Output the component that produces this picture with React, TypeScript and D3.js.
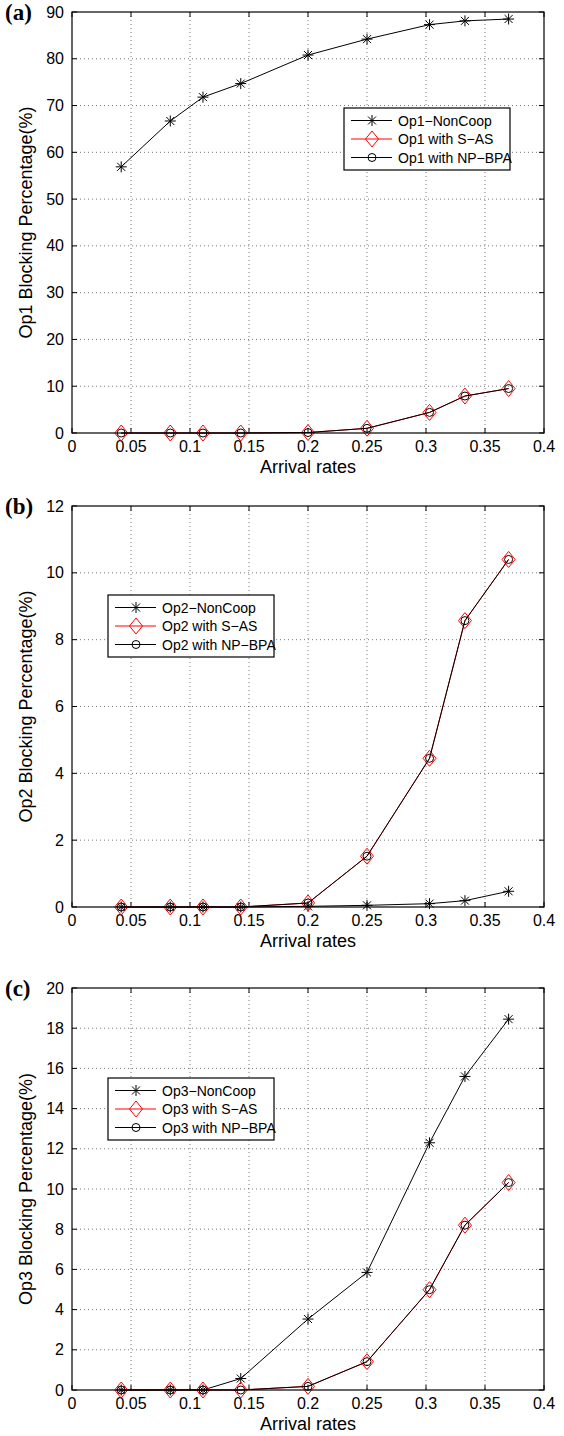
import React from 'react';
import * as d3 from 'd3';

// arrival rates on the x axis (same for all three panels)
const arrivalRates = [0.0417, 0.0833, 0.111, 0.143, 0.2, 0.25, 0.303, 0.333, 0.37];
const xTicks = [0, 0.05, 0.1, 0.15, 0.2, 0.25, 0.3, 0.35, 0.4];

const op1NonCoop = [56.9, 66.7, 71.8, 74.7, 80.8, 84.2, 87.3, 88.1, 88.5];
const op1SAS = [0, 0, 0, 0, 0.1, 1.0, 4.4, 7.9, 9.5];
const op1NPBPA = [0, 0, 0, 0, 0.1, 1.0, 4.4, 7.9, 9.5];

const op2NonCoop = [0, 0, 0, 0, 0.02, 0.05, 0.1, 0.19, 0.47];
const op2SAS = [0, 0, 0, 0, 0.12, 1.52, 4.45, 8.57, 10.4];
const op2NPBPA = [0, 0, 0, 0, 0.12, 1.52, 4.45, 8.57, 10.4];

const op3NonCoop = [0, 0, 0, 0.57, 3.53, 5.85, 12.3, 15.6, 18.45];
const op3SAS = [0, 0, 0, 0, 0.18, 1.41, 4.99, 8.2, 10.32];
const op3NPBPA = [0, 0, 0, 0, 0.18, 1.41, 4.99, 8.2, 10.32];

const op1Ticks = [0, 10, 20, 30, 40, 50, 60, 70, 80, 90];
const op2Ticks = [0, 2, 4, 6, 8, 10, 12];
const op3Ticks = [0, 2, 4, 6, 8, 10, 12, 14, 16, 18, 20];

const W = 564;
const H = 1436;
const left = 72;
const right = 544;
const sans = "'Liberation Sans', Arial, sans-serif";

type Kind = 'star' | 'diamond' | 'circle';

const Marker = ({ kind, x, y, color }: { kind: Kind; x: number; y: number; color: string }) => {
  if (kind === 'star') {
    const s = 5.5;
    const d = 4;
    return (
      <g stroke={color} strokeWidth={1}>
        <line x1={x - s} y1={y} x2={x + s} y2={y} />
        <line x1={x} y1={y - s} x2={x} y2={y + s} />
        <line x1={x - d} y1={y - d} x2={x + d} y2={y + d} />
        <line x1={x - d} y1={y + d} x2={x + d} y2={y - d} />
      </g>
    );
  }
  if (kind === 'diamond') {
    const w = 6.5;
    const h = 8;
    return (
      <path
        d={`M${x},${y - h}L${x + w},${y}L${x},${y + h}L${x - w},${y}Z`}
        fill="none"
        stroke={color}
        strokeWidth={1}
      />
    );
  }
  return <circle cx={x} cy={y} r={4} fill="none" stroke={color} strokeWidth={1} />;
};

interface Series {
  name: string;
  values: number[];
  color: string;
  kind: Kind;
}

interface PanelProps {
  letter: string;
  top: number;
  bottom: number;
  yTicks: number[];
  yLabel: string;
  series: Series[];
  legendX: number;
  legendY: number;
}

const Panel = ({ letter, top, bottom, yTicks, yLabel, series, legendX, legendY }: PanelProps) => {
  const x = d3.scaleLinear().domain([0, 0.4]).range([left, right]);
  const y = d3
    .scaleLinear()
    .domain([0, d3.max(yTicks) as number])
    .range([bottom, top]);
  const line = d3
    .line<number>()
    .x((_, i) => x(arrivalRates[i]))
    .y((d) => y(d));
  const midY = (top + bottom) / 2;
  const legendW = 166;
  const legendH = 62;

  return (
    <g>
      {/* grid */}
      {xTicks.slice(1, -1).map((t) => (
        <line key={'gx' + t} x1={x(t)} x2={x(t)} y1={top} y2={bottom} stroke="#555" strokeWidth={0.8} strokeDasharray="1,3" />
      ))}
      {yTicks.slice(1, -1).map((t) => (
        <line key={'gy' + t} x1={left} x2={right} y1={y(t)} y2={y(t)} stroke="#555" strokeWidth={0.8} strokeDasharray="1,3" />
      ))}
      {/* inner ticks */}
      {xTicks.map((t) => (
        <g key={'tx' + t} stroke="#000" strokeWidth={1}>
          <line x1={x(t)} x2={x(t)} y1={bottom} y2={bottom - 5} />
          <line x1={x(t)} x2={x(t)} y1={top} y2={top + 5} />
        </g>
      ))}
      {yTicks.map((t) => (
        <g key={'ty' + t} stroke="#000" strokeWidth={1}>
          <line x1={left} x2={left + 5} y1={y(t)} y2={y(t)} />
          <line x1={right} x2={right - 5} y1={y(t)} y2={y(t)} />
        </g>
      ))}
      {/* tick labels */}
      {xTicks.map((t) => (
        <text key={'lx' + t} x={x(t)} y={bottom + 18.5} textAnchor="middle" fontFamily={sans} fontSize={16}>
          {String(t)}
        </text>
      ))}
      {yTicks.map((t) => (
        <text key={'ly' + t} x={left - 8} y={y(t) + 5.5} textAnchor="end" fontFamily={sans} fontSize={16}>
          {String(t)}
        </text>
      ))}
      <text x={(left + right) / 2} y={bottom + 40} textAnchor="middle" fontFamily={sans} fontSize={18}>
        Arrival rates
      </text>
      <text
        transform={`translate(32,${midY}) rotate(-90)`}
        textAnchor="middle"
        fontFamily={sans}
        fontSize={18}
      >
        {yLabel}
      </text>
      <text x={5} y={top + 8} fontFamily="'Liberation Serif', 'Times New Roman', serif" fontWeight="bold" fontSize={23}>
        {letter}
      </text>
      {/* series */}
      {series.map((s) => (
        <g key={s.name}>
          <path d={line(s.values) as string} fill="none" stroke={s.color} strokeWidth={1} />
          {s.values.map((v, i) => (
            <Marker key={i} kind={s.kind} x={x(arrivalRates[i])} y={y(v)} color={s.color} />
          ))}
        </g>
      ))}
      {/* box */}
      <rect x={left} y={top} width={right - left} height={bottom - top} fill="none" stroke="#000" strokeWidth={1.2} />
      {/* legend */}
      <g>
        <rect x={legendX} y={legendY} width={legendW} height={legendH} fill="#fff" stroke="#000" strokeWidth={1.2} />
        {series.map((s, i) => {
          const ly = legendY + 12.5 + i * 18.5;
          return (
            <g key={'lg' + s.name}>
              <line x1={legendX + 7} x2={legendX + 48} y1={ly} y2={ly} stroke={s.color} strokeWidth={1} />
              <Marker kind={s.kind} x={legendX + 28} y={ly} color={s.color} />
              <text x={legendX + 54} y={ly + 5} fontFamily={sans} fontSize={14}>
                {s.name}
              </text>
            </g>
          );
        })}
      </g>
    </g>
  );
};

const App = () => {
  return (
    <div style={{ position: 'absolute', left: 0, top: 0 }}>
      <svg width={W} height={H} style={{ display: 'block', background: '#fff' }}>
        <Panel
          letter="(a)"
          top={12}
          bottom={433}
          yTicks={op1Ticks}
          yLabel="Op1 Blocking Percentage(%)"
          legendX={344}
          legendY={108}
          series={[
            { name: 'Op1\u2212NonCoop', values: op1NonCoop, color: '#000', kind: 'star' },
            { name: 'Op1 with S\u2212AS', values: op1SAS, color: '#ff0000', kind: 'diamond' },
            { name: 'Op1 with NP\u2212BPA', values: op1NPBPA, color: '#000', kind: 'circle' },
          ]}
        />
        <Panel
          letter="(b)"
          top={506}
          bottom={907}
          yTicks={op2Ticks}
          yLabel="Op2 Blocking Percentage(%)"
          legendX={108}
          legendY={595}
          series={[
            { name: 'Op2\u2212NonCoop', values: op2NonCoop, color: '#000', kind: 'star' },
            { name: 'Op2 with S\u2212AS', values: op2SAS, color: '#ff0000', kind: 'diamond' },
            { name: 'Op2 with NP\u2212BPA', values: op2NPBPA, color: '#000', kind: 'circle' },
          ]}
        />
        <Panel
          letter="(c)"
          top={988}
          bottom={1390}
          yTicks={op3Ticks}
          yLabel="Op3 Blocking Percentage(%)"
          legendX={108}
          legendY={1078}
          series={[
            { name: 'Op3\u2212NonCoop', values: op3NonCoop, color: '#000', kind: 'star' },
            { name: 'Op3 with S\u2212AS', values: op3SAS, color: '#ff0000', kind: 'diamond' },
            { name: 'Op3 with NP\u2212BPA', values: op3NPBPA, color: '#000', kind: 'circle' },
          ]}
        />
      </svg>
    </div>
  );
};

export default App;
